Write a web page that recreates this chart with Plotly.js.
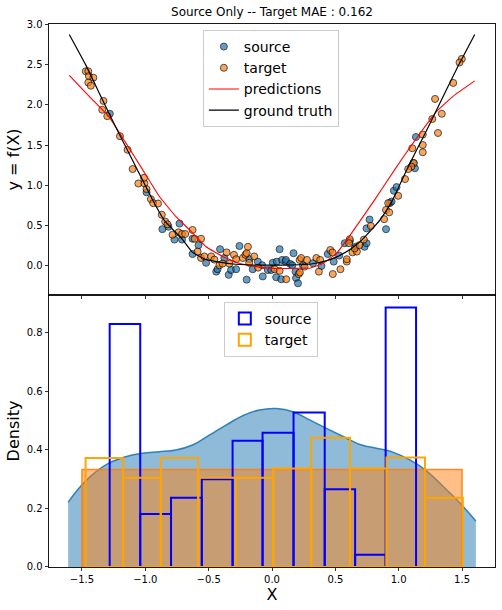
<!DOCTYPE html>
<html>
<head>
<meta charset="utf-8">
<script src="https://cdn.plot.ly/plotly-3.0.1.min.js"></script>
<style>html,body{margin:0;padding:0;background:#fff;}#chart{width:502px;height:610px;}</style>
</head>
<body>
<div id="chart"></div>
<script>
// ---- scatter data (top panel) ----
const src_x = [-1.28, -0.99, -0.865, -0.817, -0.77, -0.73, -0.71, -0.627, -0.627, -0.58, -0.52, -0.44, -0.43, -0.41, -0.376, -0.342, -0.323, -0.283, -0.257, -0.20, -0.178, -0.152, -0.112, -0.078, -0.073, -0.033, 0.006, -0.006, 0.033, 0.038, 0.06, 0.073, 0.08, 0.107, 0.11, 0.144, 0.16, 0.17, 0.186, 0.19, 0.205, 0.244, 0.323, 0.39, 0.44, 0.487, 0.53, 0.574, 0.614, 0.66, 0.73, 0.746, 0.746, 0.77, 0.90, 0.93, 0.944, 0.962, 0.983, 1.115, 1.128, 1.136];
const src_y = [1.89, 0.91, 0.45, 0.48, 0.32, 0.52, 0.32, 0.33, 0.14, 0.25, 0.03, -0.08, -0.05, 0.20, 0.09, -0.12, -0.06, -0.05, 0.24, -0.18, 0.075, -0.05, 0.045, 0.00, -0.14, -0.06, 0.03, -0.06, -0.15, 0.045, 0.20, -0.175, 0.066, 0.045, 0.066, 0.016, 0.00, 0.15, -0.08, -0.16, -0.225, 0.00, 0.025, -0.01, 0.14, 0.045, 0.12, 0.275, 0.30, 0.23, 0.23, 0.275, 0.46, 0.57, 0.45, 0.775, 0.795, 0.93, 0.975, 1.275, 1.21, 1.60];

const tgt_x = [-1.47, -1.45, -1.445, -1.41, -1.45, -1.43, -1.33, -1.34, -1.30, -1.20, -1.14, -1.10, -1.055, -1.007, -1.01, -0.99, -0.956, -0.938, -0.90, -0.87, -0.843, -0.825, -0.785, -0.738, -0.71, -0.685, -0.627, -0.56, -0.61,
  -0.587, -0.56, -0.534, -0.48, -0.455, -0.415, -0.39, -0.358, -0.336, -0.30, -0.283, -0.23, -0.21, -0.20, -0.19, -0.18, -0.14, -0.11, 0.02,
  0.06, 0.112, 0.218, 0.23, 0.276, 0.21, 0.22, 0.35, 0.38, 0.37, 0.46, 0.477, 0.48, 0.54, 0.59, 0.59, 0.614, 0.608, 0.635, 0.67, 0.653, 0.69, 0.725, 0.78, 0.885, 0.90, 0.925, 0.917, 0.257,
  1.498, 1.48, 1.43, 1.287, 1.265, 1.34, 1.31, 1.19, 1.19, 1.19, 1.107, 1.12, 1.10, 1.075, 1.05, 0.996];
const tgt_y = [2.42, 2.42, 2.36, 2.34, 2.28, 2.24, 2.05, 1.94, 1.86, 1.61, 1.44, 1.20, 1.02, 1.02, 1.09, 0.95, 0.825, 0.775, 0.77, 0.63, 0.545, 0.51, 0.38, 0.41, 0.39, 0.39, 0.44, 0.33, 0.33,
  0.17, 0.09, 0.11, 0.11, 0.07, 0.00, 0.02, 0.16, 0.02, 0.13, 0.075, 0.09, 0.13, 0.15, 0.23, 0.03, 0.11, -0.03, -0.05,
  -0.07, -0.175, 0.066, 0.09, 0.066, -0.11, -0.09, 0.09, 0.066, -0.08, 0.19, 0.16, -0.11, -0.05, 0.045, 0.075, 0.325, 0.275, 0.16, 0.17, 0.21, 0.25, 0.32, 0.49, 0.575, 0.69, 0.66, 0.775, -0.017,
  2.575, 2.53, 2.275, 2.075, 1.825, 1.89, 1.65, 1.63, 1.50, 1.41, 1.46, 1.275, 1.23, 1.20, 1.075, 0.866];

// ---- predictions and ground truth curves ----
const pred_x = [-1.6, -1.42, -1.29, -1.155, -1.02, -0.89, -0.76, -0.65, -0.52, -0.39, -0.26, -0.125, 0.0, 0.12, 0.25, 0.30, 0.40, 0.51, 0.61, 0.72, 0.81, 0.90, 1.04, 1.17, 1.30, 1.43, 1.6];
const pred_y = [2.37, 2.07, 1.86, 1.53, 1.19, 0.86, 0.61, 0.44, 0.23, 0.11, 0.025, -0.017, -0.04, -0.04, -0.037, -0.037, 0.02, 0.15, 0.36, 0.61, 0.816, 1.03, 1.36, 1.65, 1.92, 2.11, 2.30];
const gt_x = [-1.6, -1.47, -1.34, -1.21, -1.075, -0.944, -0.85, -0.706, -0.627, -0.52, -0.44, -0.31, -0.15, 0.0, 0.15, 0.31, 0.44, 0.52, 0.627, 0.706, 0.85, 0.944, 1.075, 1.21, 1.34, 1.47, 1.6];
const gt_y = [2.88, 2.50, 2.07, 1.65, 1.23, 0.82, 0.56, 0.32, 0.16, 0.07, 0.045, 0.015, 0.003, 0.0, 0.003, 0.015, 0.06, 0.11, 0.21, 0.31, 0.56, 0.79, 1.23, 1.65, 2.07, 2.49, 2.88];

// ---- densities (bottom panel) ----
const kde_x = [-1.609, -1.524, -1.419, -1.287, -1.155, -1.023, -0.891, -0.759, -0.627, -0.495, -0.363, -0.231, -0.099, 0.033, 0.165, 0.297, 0.429, 0.561, 0.693, 0.825, 0.957, 1.089, 1.221, 1.352, 1.485, 1.609];
const kde_y = [0.221, 0.269, 0.315, 0.355, 0.377, 0.389, 0.394, 0.400, 0.417, 0.451, 0.485, 0.517, 0.537, 0.542, 0.531, 0.503, 0.474, 0.446, 0.419, 0.406, 0.392, 0.366, 0.328, 0.275, 0.218, 0.157];
const unif_x = [-1.5, -1.5, 1.5, 1.5, -1.5];
const unif_y = [0, 0.3333, 0.3333, 0, 0];

// ---- histograms ----
const src_edges = [-1.281, -1.04, -0.797, -0.554, -0.311, -0.0745, 0.17, 0.416, 0.656, 0.897, 1.137];
const src_dens  = [0.831, 0.181, 0.237, 0.300, 0.432, 0.459, 0.528, 0.266, 0.042, 0.887];
const tgt_edges = [-1.471, -1.174, -0.878, -0.582, -0.284, 0.010, 0.310, 0.616, 0.904, 1.207, 1.506];
const tgt_dens  = [0.373, 0.305, 0.373, 0.305, 0.305, 0.337, 0.442, 0.337, 0.374, 0.237];

// ---- ticks ----
const x_ticks = [-1.5, -1.0, -0.5, 0.0, 0.5, 1.0, 1.5];
const x_tick_labels = ['\u22121.5', '\u22121.0', '\u22120.5', '0.0', '0.5', '1.0', '1.5'];
const ytop_ticks = [0.0, 0.5, 1.0, 1.5, 2.0, 2.5, 3.0];
const ytop_tick_labels = ['0.0', '0.5', '1.0', '1.5', '2.0', '2.5', '3.0'];
const ybot_ticks = [0.0, 0.2, 0.4, 0.6, 0.8];
const ybot_tick_labels = ['0.0', '0.2', '0.4', '0.6', '0.8'];

function centers(e){ const c=[]; for(let i=0;i<e.length-1;i++) c.push((e[i]+e[i+1])/2); return c; }
function widths(e){ const w=[]; for(let i=0;i<e.length-1;i++) w.push(e[i+1]-e[i]); return w; }

const traces = [
  {type:'scatter', mode:'markers', name:'source', x:src_x, y:src_y, xaxis:'x2', yaxis:'y2',
   marker:{size:7, color:'#1f77b4', opacity:0.7, line:{color:'black', width:1}}},
  {type:'scatter', mode:'markers', name:'target', x:tgt_x, y:tgt_y, xaxis:'x2', yaxis:'y2',
   marker:{size:7, color:'#ff7f0e', opacity:0.7, line:{color:'black', width:1}}},
  {type:'scatter', mode:'lines', name:'predictions', x:pred_x, y:pred_y, xaxis:'x2', yaxis:'y2',
   line:{color:'red', width:1.1, shape:'spline', smoothing:0.3}},
  {type:'scatter', mode:'lines', name:'ground truth', x:gt_x, y:gt_y, xaxis:'x2', yaxis:'y2',
   line:{color:'black', width:1.2, shape:'spline', smoothing:0.4}},
  {type:'scatter', mode:'lines', x:kde_x, y:kde_y, xaxis:'x', yaxis:'y', fill:'tozeroy',
   fillcolor:'rgba(31,119,180,0.5)', line:{color:'rgba(31,119,180,0.9)', width:1.5, shape:'spline'}, showlegend:false, hoverinfo:'skip'},
  {type:'scatter', mode:'lines', x:unif_x, y:unif_y, xaxis:'x', yaxis:'y', fill:'toself',
   fillcolor:'rgba(255,127,14,0.5)', line:{color:'rgba(255,127,14,0.9)', width:1.5}, showlegend:false, hoverinfo:'skip'},
  {type:'bar', name:'source', x:centers(src_edges), y:src_dens, width:widths(src_edges), xaxis:'x', yaxis:'y3',
   marker:{color:'rgba(0,0,0,0)', line:{color:'blue', width:2}}, legend:'legend2'},
  {type:'bar', name:'target', x:centers(tgt_edges), y:tgt_dens, width:widths(tgt_edges), xaxis:'x', yaxis:'y3',
   marker:{color:'rgba(0,0,0,0)', line:{color:'orange', width:2}}, legend:'legend2'}
];

const axisCommon = {showline:true, linecolor:'black', linewidth:0.9, mirror:true, ticks:'outside', ticklen:3.5, tickwidth:0.8,
  tickcolor:'black', showgrid:false, zeroline:false, tickfont:{size:10, color:'black'}};

const layout = {
  width:502, height:610,
  margin:{l:49, r:7, t:24, b:43, pad:0},
  paper_bgcolor:'white', plot_bgcolor:'white',
  font:{family:'DejaVu Sans', color:'black'},
  barmode:'overlay',
  title:{text:'Source Only -- Target MAE : 0.162', font:{size:12}, x:0.5, xref:'paper', xanchor:'center', y:1-12/610, yref:'container', yanchor:'middle'},
  xaxis:Object.assign({}, axisCommon, {domain:[0,1], anchor:'y', range:[-1.76,1.76], tickmode:'array', tickvals:x_ticks, ticktext:x_tick_labels,
    title:{text:'X', font:{size:16}, standoff:4}, automargin:false}),
  yaxis:Object.assign({}, axisCommon, {domain:[0,0.501], anchor:'x', range:[0,0.93], tickmode:'array', tickvals:ybot_ticks, ticktext:ybot_tick_labels,
    title:{text:'Density', font:{size:16}, standoff:3}, automargin:false}),
  yaxis3:{overlaying:'y', range:[0,0.93], visible:false, showgrid:false, zeroline:false},
  xaxis2:Object.assign({}, axisCommon, {domain:[0,1], anchor:'y2', range:[-1.76,1.76], tickmode:'array', tickvals:x_ticks, showticklabels:false, automargin:false}),
  yaxis2:Object.assign({}, axisCommon, {domain:[0.501,1], anchor:'x2', range:[-0.371,3.01], tickmode:'array', tickvals:ytop_ticks, ticktext:ytop_tick_labels,
    title:{text:'y = f(X)', font:{size:16}, standoff:3}, automargin:false}),
  legend:{x:0.345, y:0.989, xanchor:'left', yanchor:'top', xref:'paper', yref:'paper', font:{size:14},
    bgcolor:'rgba(255,255,255,0.8)', bordercolor:'#cccccc', borderwidth:1, tracegroupgap:0, itemwidth:30},
  legend2:{x:0.392, y:0.488, xanchor:'left', yanchor:'top', xref:'paper', yref:'paper', font:{size:14},
    bgcolor:'rgba(255,255,255,0.8)', bordercolor:'#cccccc', borderwidth:1, tracegroupgap:0}
};

Plotly.newPlot('chart', traces, layout, {staticPlot:true, displayModeBar:false});
</script>
</body>
</html>
